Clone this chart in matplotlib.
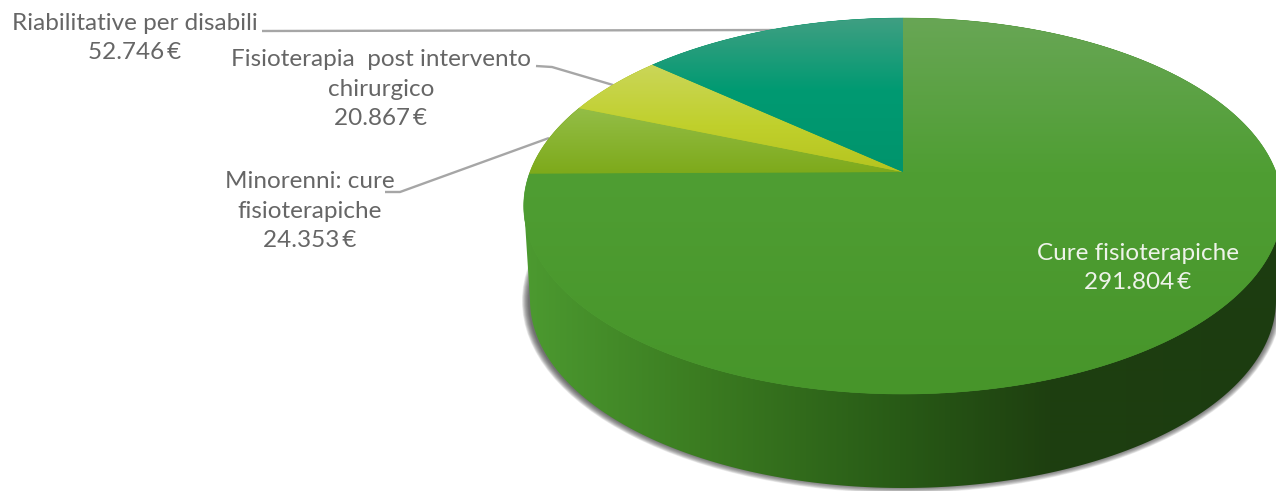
import matplotlib
matplotlib.use('Agg')
import matplotlib.pyplot as plt
from matplotlib.patches import Ellipse, Polygon
import numpy as np

categories = ['Cure fisioterapiche', 'Minorenni: cure\nfisioterapiche',
              'Fisioterapia  post intervento\nchirurgico', 'Riabilitative per disabili']
values = [291804, 24353, 20867, 52746]

# perspective of the disc, in pixels
CX, CY = 903, 172
A, B, K = 181.8, 373, 0.181
DEPTH = 94

top_stops = [
    ([18, 172, 394], ['#68a655', '#4f9e33', '#47952a']),
    ([100, 172], ['#96c04c', '#7eaa1b']),
    ([62, 125, 172], ['#cbd65a', '#c0d02c', '#b5c41f']),
    ([18, 90, 172], ['#3f9f82', '#009a72', '#00946c']),
]
side_x = [525, 700, 900, 1050, 1276]
side_colors = ['#4c9a30', '#3b7c21', '#285a16', '#1e3f10', '#1c3c10']


def project(theta):
    u, v = np.sin(theta), np.cos(theta)
    d = 1 + K * v
    return CX + B * u / d, CY - A * v / d


def gradient(pos, colors, n=491, vertical=True):
    cols = np.array([matplotlib.colors.to_rgb(c) for c in colors])
    grid = np.arange(n)
    img = np.stack([np.interp(grid, pos, cols[:, i]) for i in range(3)], axis=1)
    return img[:, None, :] if vertical else img[None, :, :]


def euro(v):
    return f'{v:,}'.replace(',', '.') + '\u2009€'


fig = plt.figure(figsize=(12.76, 4.91), dpi=100)
ax = fig.add_axes([0, 0, 1, 1])
ax.axis('off')

# soft shadow under the disc
ELL_Y = 206 + DEPTH
for i in range(12):
    ax.add_patch(Ellipse((CX - 1, ELL_Y + 1), 2 * (380 - i * 0.6), 2 * (192 - i * 0.6),
                         color='#404040', alpha=0.10, lw=0, zorder=1))

# side wall
t = np.linspace(0, np.pi, 300)
low = np.c_[CX + 373 * np.cos(t), ELL_Y + 188 * np.sin(t)]
up = np.c_[CX - 379 * np.cos(t), 206 - 188 * np.sin(t)]
side = Polygon(np.r_[low, up], fc='none', ec='none')
ax.add_patch(side)
im = ax.imshow(gradient(side_x, side_colors, 1276, vertical=False), extent=(0, 1276, 491, 0),
               aspect='auto', zorder=2, interpolation='bilinear')
im.set_clip_path(side)

# top of the disc, clockwise from twelve o'clock
edges = np.r_[0, np.cumsum(values)] / sum(values) * 2 * np.pi
for i in range(len(values)):
    th = np.linspace(edges[i], edges[i + 1], 300)
    px, py = project(th)
    wedge = Polygon(np.r_[[[CX, CY]], np.c_[px, py]], fc=top_stops[i][1][1], ec=top_stops[i][1][1],
                    lw=0.4, zorder=3)
    ax.add_patch(wedge)
    im = ax.imshow(gradient(*top_stops[i]), extent=(0, 1276, 491, 0), aspect='auto',
                   zorder=3 + 0.1 * (i + 1), interpolation='bilinear')
    im.set_clip_path(wedge)
ax.set_xlim(0, 1276)
ax.set_ylim(491, 0)

# leader lines
lines = [([385, 400, 549], [192, 192, 138]),
         ([536, 552, 613], [66, 67, 85]),
         ([262, 775], [31, 30])]
for lx, ly in lines:
    ax.plot(lx, ly, color='#a6a6a6', lw=1.7, zorder=2.5, solid_capstyle='butt')

# labels
label_pos = [(1138, 268), (310, 211), (381, 89), (135, 38)]
label_colors = ['#eef3ea', '#666666', '#666666', '#666666']
for name, v, (x, y), c in zip(categories, values, label_pos, label_colors):
    ax.text(x, y, name + '\n' + euro(v), ha='center', va='center', color=c, fontsize=17.5,
            family=['Lato', 'DejaVu Sans'], linespacing=1.48, zorder=10)

fig.savefig('out.png', dpi=100)
